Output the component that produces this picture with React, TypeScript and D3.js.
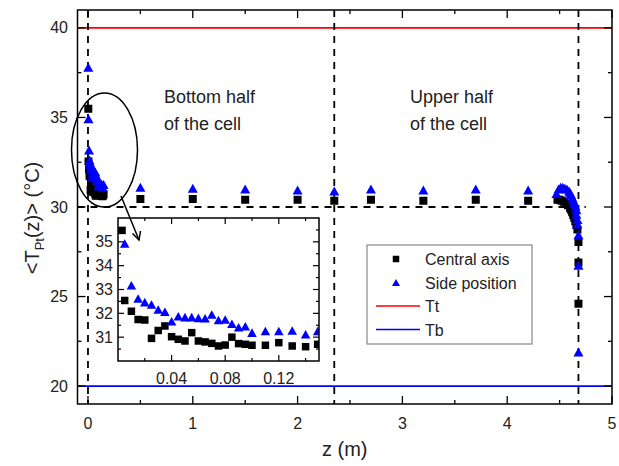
import React from "react";
import * as d3 from "d3";

// ---------- data ----------
const zMain = [0.5, 1, 1.5, 2, 2.35, 2.7, 3.2, 3.7, 4.2];
const centralMain = [30.45, 30.45, 30.4, 30.4, 30.35, 30.4, 30.35, 30.4, 30.35];
const sideMain = [31.1, 31.05, 31.0, 30.95, 30.9, 31.0, 30.95, 31.0, 30.95];

const zCentralNear = [0.003, 0.005, 0.01, 0.015, 0.02, 0.025, 0.03, 0.035, 0.04, 0.045, 0.05, 0.055, 0.06, 0.065, 0.07, 0.075, 0.08, 0.085, 0.09, 0.095, 0.1, 0.11, 0.12, 0.13, 0.14, 0.149];
const centralNear = [35.48, 32.54, 32.09, 31.74, 31.72, 30.95, 31.28, 31.47, 31.02, 30.91, 30.84, 31.19, 30.84, 30.8, 30.74, 30.63, 30.67, 31.0, 30.73, 30.7, 30.66, 30.66, 30.77, 30.63, 30.6, 30.7];

const zSideNear = [0.003, 0.005, 0.01, 0.015, 0.02, 0.025, 0.03, 0.035, 0.04, 0.045, 0.05, 0.055, 0.06, 0.065, 0.07, 0.075, 0.08, 0.085, 0.09, 0.095, 0.1, 0.11, 0.12, 0.13, 0.14, 0.149];
const sideNear = [37.8, 34.93, 33.18, 32.62, 32.47, 32.37, 32.16, 32.07, 31.67, 31.88, 31.84, 31.84, 31.81, 31.79, 31.95, 31.72, 31.74, 31.56, 31.42, 31.46, 31.19, 31.26, 31.26, 31.28, 31.12, 31.26];

const zCentralTop = [4.48, 4.5, 4.52, 4.54, 4.56, 4.58, 4.6, 4.61, 4.62, 4.63, 4.64, 4.65, 4.66, 4.67, 4.68, 4.68, 4.68];
const centralTop = [30.4, 30.4, 30.35, 30.3, 30.2, 30.1, 29.95, 29.85, 29.7, 29.55, 29.4, 29.2, 29.0, 28.75, 28.05, 26.9, 24.6];

const zSideTop = [4.47, 4.49, 4.51, 4.53, 4.55, 4.57, 4.59, 4.6, 4.61, 4.62, 4.63, 4.64, 4.65, 4.66, 4.66, 4.67, 4.67, 4.68, 4.68, 4.68];
const sideTop = [30.75, 31.0, 31.1, 31.1, 31.05, 31.0, 30.9, 30.8, 30.7, 30.55, 30.4, 30.25, 30.05, 29.85, 29.6, 29.3, 29.05, 28.45, 26.75, 21.9];

const Tt = 40;
const Tb = 20;
const midZ = 2.35;
const topZ = 4.68;
const meanT = 30;

const xMajor = [0, 1, 2, 3, 4, 5];
const xMinor = [0.5, 1.5, 2.5, 3.5, 4.5];
const yMajor = [20, 25, 30, 35, 40];
const yMinor = [22.5, 27.5, 32.5, 37.5];
const insetXLabels = [0.04, 0.08, 0.12];
const insetXTicks = [0.02, 0.04, 0.06, 0.08, 0.1, 0.12, 0.14];
const insetYLabels = [31, 32, 33, 34, 35];
const insetYMinor = [30.5, 31.5, 32.5, 33.5, 34.5, 35.5];

const legendItems = ["Central axis", "Side position", "Tt", "Tb"];

// ---------- helpers ----------
const FONT = "Arial, 'Liberation Sans', sans-serif";
const BLUE = "#0000ff";
const RED = "#ff0000";

const zip = (zs: number[], vs: number[]) => zs.map((z, i) => ({ z, v: vs[i] }));

const squarePath = (cx: number, cy: number, s: number) =>
  `M${cx - s / 2},${cy - s / 2}h${s}v${s}h${-s}Z`;
const triPath = (cx: number, cy: number, w: number) => {
  const h = w * 0.9;
  return `M${cx},${cy - h / 2}L${cx + w / 2},${cy + h / 2}L${cx - w / 2},${cy + h / 2}Z`;
};

export default function App() {
  const W = 619, H = 466;
  const x = d3.scaleLinear().domain([-0.1, 5]).range([77.5, 612]);
  const y = d3.scaleLinear().domain([19, 41]).range([404, 10]);
  const [x0, x1] = x.range();
  const [y0, y1] = [y.range()[1], y.range()[0]]; // top, bottom

  const xi = d3.scaleLinear().domain([0, 0.15]).range([118, 319]);
  const yi = d3.scaleLinear().domain([30, 36]).range([361, 218]);
  const [ix0, ix1] = xi.range();
  const [iy0, iy1] = [yi.range()[1], yi.range()[0]];

  const central = [...zip(zCentralNear, centralNear), ...zip(zMain, centralMain), ...zip(zCentralTop, centralTop)];
  const side = [...zip(zSideNear, sideNear), ...zip(zMain, sideMain), ...zip(zSideTop, sideTop)];
  const centralIn = zip(zCentralNear, centralNear);
  const sideIn = zip(zSideNear, sideNear);

  const dash = "7,6";
  const ML = 8, mL = 4;

  return (
    <svg width={W} height={H} style={{ position: "absolute", left: 0, top: 0, background: "#fff" }} fontFamily={FONT}>
      <defs>
        <clipPath id="mainClip">
          <rect x={x0} y={y0} width={x1 - x0} height={y1 - y0} />
        </clipPath>
        <clipPath id="insetClip">
          <rect x={ix0} y={iy0} width={ix1 - ix0} height={iy1 - iy0} />
        </clipPath>
      </defs>
      <rect x={0} y={0} width={W} height={H} fill="#fff" />

      {/* reference lines */}
      <line x1={x0} x2={x1} y1={y(Tt)} y2={y(Tt)} stroke={RED} strokeWidth={1.6} />
      <line x1={x0} x2={x1} y1={y(Tb)} y2={y(Tb)} stroke={BLUE} strokeWidth={1.6} />
      <line x1={x0} x2={x(4.75)} y1={y(meanT)} y2={y(meanT)} stroke="#000" strokeWidth={1.8} strokeDasharray={dash} />
      {[0, midZ, topZ].map((z) => (
        <line key={z} x1={x(z)} x2={x(z)} y1={y0} y2={y1} stroke="#000" strokeWidth={1.8} strokeDasharray={dash} />
      ))}

      {/* points */}
      <g clipPath="url(#mainClip)">
        {central.map((d, i) => (
          <path key={"c" + i} d={squarePath(x(d.z), y(d.v), 8)} fill="#000" />
        ))}
        {side.map((d, i) => (
          <path key={"s" + i} d={triPath(x(d.z), y(d.v), 10)} fill={BLUE} />
        ))}
      </g>

      {/* frame */}
      <rect x={x0} y={y0} width={x1 - x0} height={y1 - y0} fill="none" stroke="#000" strokeWidth={1.5} />
      {xMajor.map((t) => (
        <g key={"xM" + t}>
          <line x1={x(t)} x2={x(t)} y1={y1} y2={y1 - ML} stroke="#000" strokeWidth={1.3} />
          <line x1={x(t)} x2={x(t)} y1={y0} y2={y0 + ML} stroke="#000" strokeWidth={1.3} />
          <text x={x(t)} y={429} textAnchor="middle" fontSize={16} fill="#222">{t}</text>
        </g>
      ))}
      {xMinor.map((t) => (
        <g key={"xm" + t}>
          <line x1={x(t)} x2={x(t)} y1={y1} y2={y1 - mL} stroke="#000" strokeWidth={1.3} />
          <line x1={x(t)} x2={x(t)} y1={y0} y2={y0 + mL} stroke="#000" strokeWidth={1.3} />
        </g>
      ))}
      {yMajor.map((t) => (
        <g key={"yM" + t}>
          <line x1={x0} x2={x0 + ML} y1={y(t)} y2={y(t)} stroke="#000" strokeWidth={1.3} />
          <line x1={x1} x2={x1 - ML} y1={y(t)} y2={y(t)} stroke="#000" strokeWidth={1.3} />
          <text x={68} y={y(t) + 5.5} textAnchor="end" fontSize={16} fill="#222">{t}</text>
        </g>
      ))}
      {yMinor.map((t) => (
        <g key={"ym" + t}>
          <line x1={x0} x2={x0 + mL} y1={y(t)} y2={y(t)} stroke="#000" strokeWidth={1.3} />
          <line x1={x1} x2={x1 - mL} y1={y(t)} y2={y(t)} stroke="#000" strokeWidth={1.3} />
        </g>
      ))}

      {/* axis titles */}
      <text x={(x0 + x1) / 2} y={456} textAnchor="middle" fontSize={20} fill="#222">z (m)</text>
      <text transform="translate(39,218) rotate(-90)" textAnchor="middle" fontSize={20} fill="#222">
        {"<T"}
        <tspan dy={5} fontSize={13}>Pt</tspan>
        <tspan dy={-5}>{"(z)> (°C)"}</tspan>
      </text>

      {/* annotations */}
      <text x={164} y={103} fontSize={18} fill="#222">Bottom half</text>
      <text x={164} y={130} fontSize={18} fill="#222">of the cell</text>
      <text x={410} y={103} fontSize={18} fill="#222">Upper half</text>
      <text x={410} y={130} fontSize={18} fill="#222">of the cell</text>

      <ellipse cx={104.5} cy={150} rx={33} ry={57} fill="none" stroke="#000" strokeWidth={1.5} />

      {/* inset */}
      <rect x={ix0} y={iy0} width={ix1 - ix0} height={iy1 - iy0} fill="#fff" />
      <g clipPath="url(#insetClip)">
        {centralIn.map((d, i) => (
          <path key={"ic" + i} d={squarePath(xi(d.z), yi(d.v), 7.5)} fill="#000" />
        ))}
        {sideIn.map((d, i) => (
          <path key={"is" + i} d={triPath(xi(d.z), yi(d.v), 9.5)} fill={BLUE} />
        ))}
      </g>
      <rect x={ix0} y={iy0} width={ix1 - ix0} height={iy1 - iy0} fill="none" stroke="#000" strokeWidth={1.5} />
      {insetYLabels.map((t) => (
        <g key={"iyM" + t}>
          <line x1={ix0} x2={ix0 + 6} y1={yi(t)} y2={yi(t)} stroke="#000" strokeWidth={1.2} />
          <line x1={ix1} x2={ix1 - 6} y1={yi(t)} y2={yi(t)} stroke="#000" strokeWidth={1.2} />
          <text x={113} y={yi(t) + 5.5} textAnchor="end" fontSize={16} fill="#222">{t}</text>
        </g>
      ))}
      {insetYMinor.map((t) => (
        <g key={"iym" + t}>
          <line x1={ix0} x2={ix0 + 3} y1={yi(t)} y2={yi(t)} stroke="#000" strokeWidth={1.2} />
          <line x1={ix1} x2={ix1 - 3} y1={yi(t)} y2={yi(t)} stroke="#000" strokeWidth={1.2} />
        </g>
      ))}
      {insetXTicks.map((t, i) => (
        <g key={"ixt" + t}>
          <line x1={xi(t)} x2={xi(t)} y1={iy1} y2={iy1 - (i % 2 ? 6 : 3)} stroke="#000" strokeWidth={1.2} />
          <line x1={xi(t)} x2={xi(t)} y1={iy0} y2={iy0 + (i % 2 ? 6 : 3)} stroke="#000" strokeWidth={1.2} />
        </g>
      ))}
      {insetXLabels.map((t) => (
        <text key={"ixl" + t} x={xi(t)} y={384} textAnchor="middle" fontSize={16} fill="#222">{t.toFixed(2)}</text>
      ))}

      {/* arrow */}
      <line x1={121} y1={196} x2={139} y2={240} stroke="#000" strokeWidth={1.5} />
      <path d="M132.5,233.5 L139,240 L140.5,231" fill="none" stroke="#000" strokeWidth={1.5} />

      {/* legend */}
      <rect x={367} y={245} width={165} height={99} fill="#fff" stroke="#888" strokeWidth={1.2} />
      {legendItems.map((label, i) => {
        const cy = 259 + i * 23.5;
        return (
          <g key={label}>
            {i === 0 && <path d={squarePath(396, cy, 6.5)} fill="#000" />}
            {i === 1 && <path d={triPath(396, cy, 8)} fill={BLUE} />}
            {i === 2 && <line x1={376} x2={420} y1={cy} y2={cy} stroke={RED} strokeWidth={1.5} />}
            {i === 3 && <line x1={376} x2={420} y1={cy} y2={cy} stroke={BLUE} strokeWidth={1.5} />}
            <text x={425} y={cy + 6} fontSize={16} fill="#222">{label}</text>
          </g>
        );
      })}
    </svg>
  );
}
